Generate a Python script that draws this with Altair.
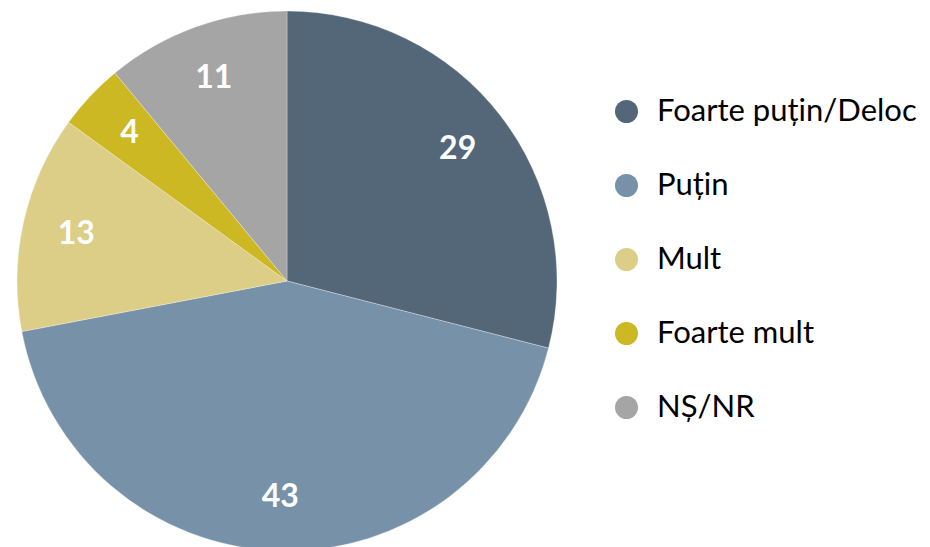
import altair as alt
import pandas as pd

categories = ["Foarte puțin/Deloc", "Puțin", "Mult", "Foarte mult", "NȘ/NR"]
values = [29, 43, 13, 4, 11]
colors = ["#546779", "#7792A8", "#DCCE87", "#CCB822", "#A5A5A5"]

df = pd.DataFrame({"cat": categories, "value": values, "ord": list(range(len(values)))})

base = alt.Chart(df).encode(
    theta=alt.Theta("value:Q", stack=True),
    order=alt.Order("ord:Q"),
    x=alt.value(279),
    y=alt.value(273),
)

pie = base.mark_arc(outerRadius=270, stroke="white", strokeWidth=0.3).encode(
    color=alt.Color(
        "cat:N",
        sort=categories,
        scale=alt.Scale(domain=categories, range=colors),
        legend=alt.Legend(
            title=None,
            orient="none",
            legendX=603,
            legendY=88,
            symbolType="circle",
            symbolSize=530,
            symbolStrokeWidth=0,
            labelFontSize=31,
            labelFont="Lato",
            labelColor="#000000",
            labelOffset=15,
            rowPadding=42,
            padding=0,
            labelLimit=400,
        ),
    )
)

text = base.mark_text(
    radius=216, fontSize=32, fontWeight="bold", fill="white", font="Lato"
).encode(text=alt.Text("value:Q"))

chart = (
    alt.layer(pie, text)
    .properties(width=914, height=539, padding=0, autosize=alt.AutoSizeParams(type="none"))
    .configure_view(stroke=None)
)

chart.save("out.html", embed_options={"renderer": "svg", "actions": False})
